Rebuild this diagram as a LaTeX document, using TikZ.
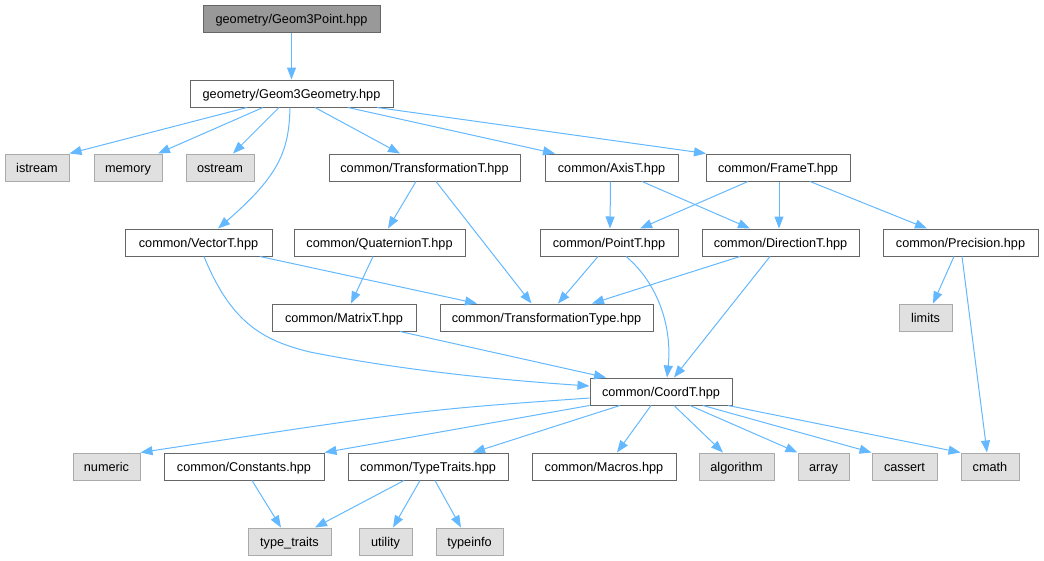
\documentclass[tikz,border=0pt]{standalone}
\usepackage{fontspec}
\setmainfont{Liberation Sans}
\usetikzlibrary{arrows.meta}
\definecolor{edgec}{HTML}{63B8FF}
\definecolor{bord}{HTML}{666666}
\definecolor{extfill}{HTML}{E0E0E0}
\definecolor{extbord}{HTML}{AAAAAA}
\definecolor{rootfill}{HTML}{999999}
\tikzset{
  box/.style={draw=bord, fill=white, line width=1pt, minimum height=27pt, inner sep=0pt,
    text height=12pt, text depth=3pt, font=\fontsize{12.7}{15}\selectfont},
  ext/.style={box, draw=extbord, fill=extfill},
  root/.style={box, fill=rootfill},
  edge/.style={draw=edgec, line width=1pt, -{Triangle[length=12pt,width=9pt]}},
}
\begin{document}
\begin{tikzpicture}[x=1pt,y=-1pt]
\useasboundingbox (0,0) rectangle (1044,560);
% nodes
\node[root, minimum width=177] (p) at (291.5,18.5) {geometry/Geom3Point.hpp};
\node[box, minimum width=203] (g) at (291.5,93.5) {geometry/Geom3Geometry.hpp};
\node[ext, minimum width=64] (ist) at (37,167.5) {istream};
\node[ext, minimum width=68] (mem) at (128,167.5) {memory};
\node[ext, minimum width=68] (ost) at (220,167.5) {ostream};
\node[box, minimum width=191] (tt) at (424.5,167.5) {common/TransformationT.hpp};
\node[box, minimum width=133] (ax) at (611.5,167.5) {common/AxisT.hpp};
\node[box, minimum width=144] (fr) at (778,167.5) {common/FrameT.hpp};
\node[box, minimum width=147] (vec) at (198.5,242.5) {common/VectorT.hpp};
\node[box, minimum width=171] (qu) at (379.5,242.5) {common/QuaternionT.hpp};
\node[box, minimum width=138] (pt) at (609,242.5) {common/PointT.hpp};
\node[box, minimum width=157] (dir) at (780.5,242.5) {common/DirectionT.hpp};
\node[box, minimum width=155] (pre) at (960.5,242.5) {common/Precision.hpp};
\node[box, minimum width=144] (mat) at (344,317.5) {common/MatrixT.hpp};
\node[box, minimum width=213] (tty) at (546.5,317.5) {common/TransformationType.hpp};
\node[ext, minimum width=53] (lim) at (925.5,317.5) {limits};
\node[box, minimum width=142] (co) at (661,391.5) {common/CoordT.hpp};
\node[ext, minimum width=67] (num) at (106.5,466.5) {numeric};
\node[box, minimum width=160] (con) at (244,466.5) {common/Constants.hpp};
\node[box, minimum width=160] (tyt) at (428,466.5) {common/TypeTraits.hpp};
\node[box, minimum width=144] (mac) at (604,466.5) {common/Macros.hpp};
\node[ext, minimum width=75] (alg) at (736.5,466.5) {algorithm};
\node[ext, minimum width=51] (arr) at (823.5,466.5) {array};
\node[ext, minimum width=65] (cas) at (904.5,466.5) {cassert};
\node[ext, minimum width=58] (cm) at (990,466.5) {cmath};
\node[ext, minimum width=83] (tr) at (289.5,541.5) {type\_traits};
\node[ext, minimum width=53] (ut) at (385.5,541.5) {utility};
\node[ext, minimum width=67] (ti) at (469.5,541.5) {typeinfo};
% edges
\draw[edge] (p.south) -- (g.north);
\draw[edge] ([xshift=-44.5]g.south) -- (ist.north east);
\draw[edge] ([xshift=-28.5]g.south) -- ([xshift=30]mem.north);
\draw[edge] ([xshift=-12.5]g.south) -- ([xshift=13]ost.north);
\draw[edge] ([xshift=-1.5]g.south) .. controls (289,150) and (280,175) .. ([xshift=19.5]vec.north);
\draw[edge] ([xshift=23.5]g.south) -- ([xshift=-24.5]tt.north);
\draw[edge] ([xshift=56.5]g.south) -- ([xshift=-56.5]ax.north);
\draw[edge] ([xshift=85.5]g.south) -- ([xshift=-72]fr.north);
\draw[edge] ([xshift=-8.5]tt.south) -- ([xshift=8.5]qu.north);
\draw[edge] ([xshift=11.5]tt.south) -- ([xshift=-15]tty.north);
\draw[edge] ([xshift=-1]ax.south) -- ([xshift=1]pt.north);
\draw[edge] ([xshift=30.5]ax.south) -- ([xshift=-30.5]dir.north);
\draw[edge] ([xshift=-30]fr.south) -- ([xshift=31]pt.north);
\draw[edge] ([xshift=1]fr.south) -- ([xshift=-1.5]dir.north);
\draw[edge] ([xshift=32]fr.south) -- ([xshift=-33.5]pre.north);
\draw[edge] ([xshift=61.5]vec.south) -- ([xshift=-69.5]tty.north);
\draw[edge] ([xshift=5.5]vec.south) .. controls (230,320) and (260,340) .. (310,352) .. controls (400,370) and (500,380) .. ([yshift=5.5]co.west);
\draw[edge] ([xshift=-6.5]qu.south) -- ([xshift=7]mat.north);
\draw[edge] ([xshift=56]mat.south) -- ([xshift=-55]co.north);
\draw[edge] ([xshift=-11]pt.south) -- ([xshift=11.5]tty.north);
\draw[edge] ([xshift=17]pt.south) .. controls (660,285) and (672,330) .. ([xshift=6]co.north);
\draw[edge] ([xshift=-40.5]dir.south) -- ([xshift=45.5]tty.north);
\draw[edge] ([xshift=-10.5]dir.south) -- ([xshift=13]co.north);
\draw[edge] ([xshift=-6.5]pre.south) -- ([xshift=7.5]lim.north);
\draw[edge] ([xshift=1.5]pre.south) -- ([xshift=-3]cm.north);
\draw[edge] ([yshift=-6.5]co.west) .. controls (420,410) .. (num.north east);
\draw[edge] (co.south west) -- (con.north east);
\draw[edge] ([xshift=-41]co.south) -- ([xshift=45]tyt.north);
\draw[edge] ([xshift=-10]co.south) -- ([xshift=13]mac.north);
\draw[edge] ([xshift=13]co.south) -- ([xshift=-13.5]alg.north);
\draw[edge] ([xshift=29]co.south) -- (arr.north west);
\draw[edge] ([xshift=42]co.south) -- (cas.north west);
\draw[edge] ([xshift=67]co.south) -- (cm.north west);
\draw[edge] ([xshift=8]con.south) -- ([xshift=-8.5]tr.north);
\draw[edge] ([xshift=-24]tyt.south) -- ([xshift=25.5]tr.north);
\draw[edge] ([xshift=-8]tyt.south) -- ([xshift=7.5]ut.north);
\draw[edge] ([xshift=7]tyt.south) -- ([xshift=-8.5]ti.north);
\end{tikzpicture}
\end{document}
